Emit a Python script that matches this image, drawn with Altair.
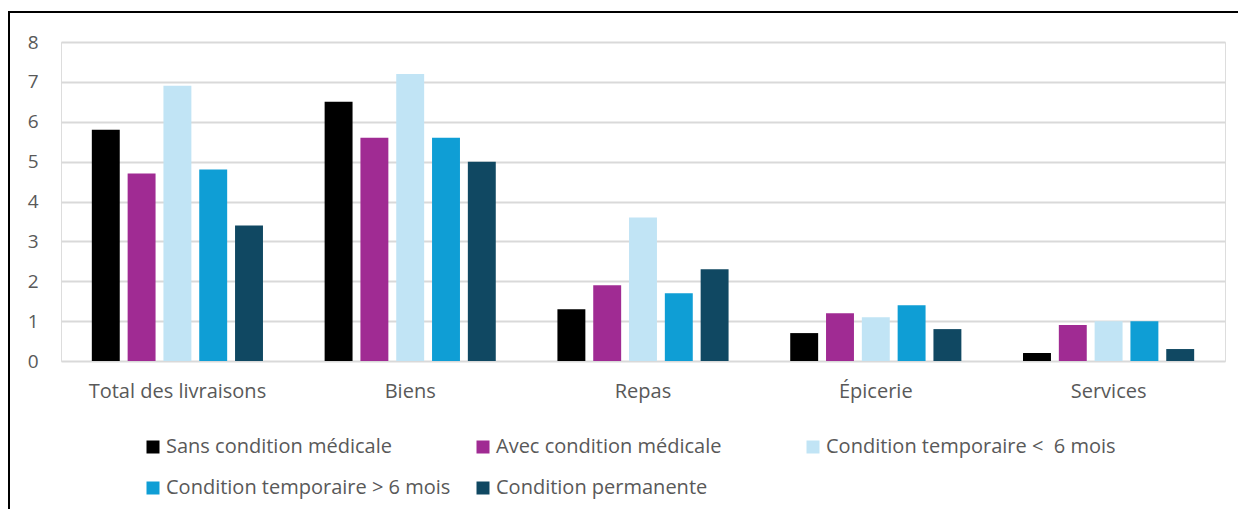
import altair as alt
import pandas as pd

categories = ["Total des livraisons", "Biens", "Repas", "Épicerie", "Services"]
series = [
    "Sans condition médicale",
    "Avec condition médicale",
    "Condition temporaire <\u00a0 6 mois",
    "Condition temporaire > 6 mois",
    "Condition permanente",
]
colors = ["#000000", "#A02B93", "#C1E4F5", "#0F9ED5", "#104862"]

sans = [5.8, 6.5, 1.3, 0.7, 0.2]
avec = [4.7, 5.6, 1.9, 1.2, 0.9]
temp_lt6 = [6.9, 7.2, 3.6, 1.1, 1.0]
temp_gt6 = [4.8, 5.6, 1.7, 1.4, 1.0]
perm = [3.4, 5.0, 2.3, 0.8, 0.3]

values = [sans, avec, temp_lt6, temp_gt6, perm]
rows = []
for s, vals in zip(series, values):
    for c, v in zip(categories, vals):
        rows.append({"cat": c, "serie": s, "val": v})
df = pd.DataFrame(rows)

FONT = "Open Sans"
TXT = "#595959"

bars = alt.Chart(df).mark_bar().encode(
    x=alt.X("cat:N", sort=categories, title=None,
            scale=alt.Scale(paddingInner=0.231, paddingOuter=0.1155),
            axis=alt.Axis(labelAngle=0, domain=False, ticks=False, labelPadding=20,
                          labelFontSize=20, labelColor=TXT, labelFont=FONT)),
    xOffset=alt.XOffset("serie:N", sort=series,
                        scale=alt.Scale(paddingInner=0.22, paddingOuter=0.11)),
    y=alt.Y("val:Q", title=None,
            scale=alt.Scale(domain=[0, 8], nice=False),
            axis=alt.Axis(values=list(range(0, 9)), domain=False, ticks=False,
                          labelPadding=23, labelFontSize=19, labelColor=TXT, labelFont=FONT,
                          gridColor="#D9D9D9", gridWidth=2)),
    color=alt.Color("serie:N", sort=series,
                    scale=alt.Scale(domain=series, range=colors),
                    legend=alt.Legend(title=None, orient="none", legendX=82, legendY=395,
                                      direction="horizontal",
                                      columns=3, gridAlign="all", columnPadding=17,
                                      rowPadding=21, symbolType="square", symbolSize=169,
                                      symbolStrokeWidth=0, labelOffset=3,
                                      labelFontSize=20, labelColor=TXT, labelFont=FONT,
                                      labelLimit=400)),
)

frame_data = alt.Data(values=[{}])
left_line = alt.Chart(frame_data).mark_rule(color="#000000", strokeWidth=2).encode(
    x=alt.value(-52), y=alt.value(-30), y2=alt.value(480))
top_line = alt.Chart(frame_data).mark_rule(color="#000000", strokeWidth=2).encode(
    x=alt.value(-53), x2=alt.value(1180), y=alt.value(-30))

chart = alt.layer(bars, left_line, top_line).properties(
    width=1164, height=319,
    autosize=alt.AutoSizeParams(type="none"),
    padding={"left": 53, "top": 34, "right": 13, "bottom": 148},
).configure_view(stroke=None).configure(background="white")

chart.save("out.html", embed_options={"renderer": "svg", "actions": False})
